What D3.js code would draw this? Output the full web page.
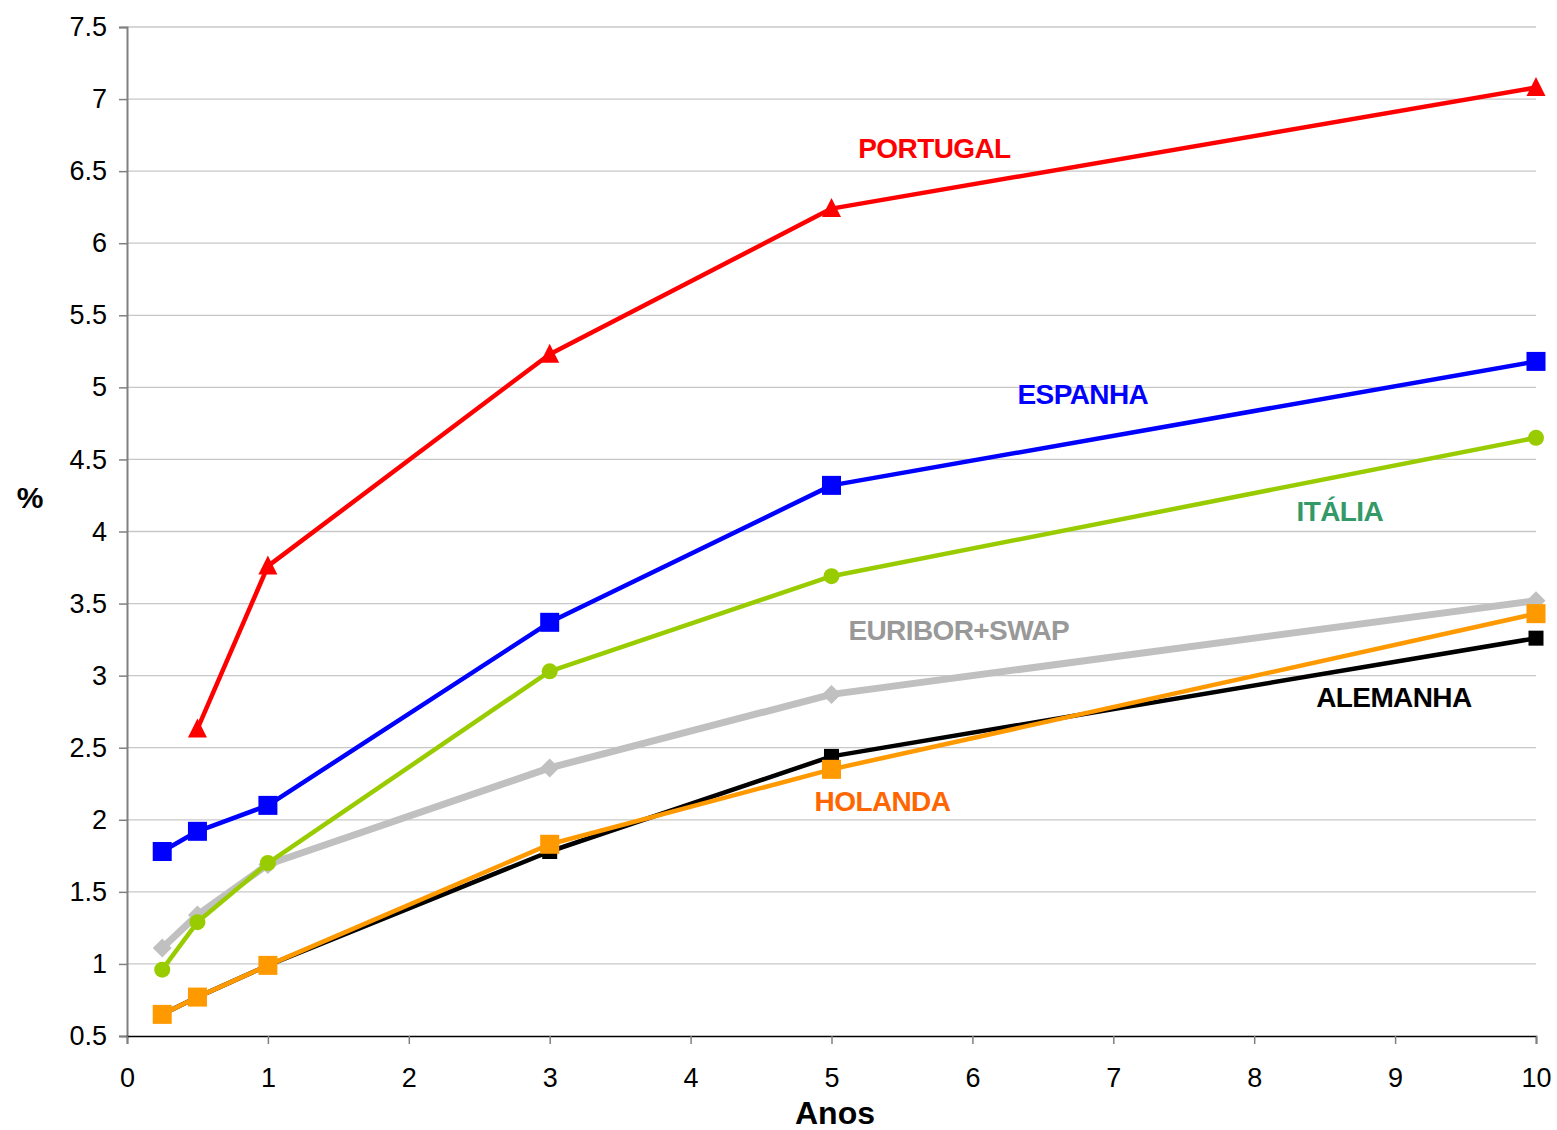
<!DOCTYPE html>
<html><head><meta charset="utf-8">
<script src="https://cdn.jsdelivr.net/npm/d3@7"></script>
<style>body{margin:0;background:#fff}svg{display:block;font-family:"Liberation Sans",Arial,sans-serif}</style>
</head><body>
<script>
const maturities = [0.25, 0.5, 1, 3, 5, 10];
const portugal = [null, 2.63, 3.76, 5.23, 6.24, 7.08];
const espanha = [1.78, 1.92, 2.10, 3.37, 4.32, 5.18];
const italia = [0.96, 1.29, 1.70, 3.03, 3.69, 4.65];
const euriborSwap = [1.11, 1.34, 1.69, 2.36, 2.87, 3.52];
const alemanha = [0.65, 0.77, 0.99, 1.78, 2.44, 3.26];
const holanda = [0.65, 0.77, 0.99, 1.83, 2.35, 3.43];
const xTicks = [0,1,2,3,4,5,6,7,8,9,10];
const yTicks = [0.5,1,1.5,2,2.5,3,3.5,4,4.5,5,5.5,6,6.5,7,7.5];

const series = [
  {name:"EURIBOR+SWAP", values:euriborSwap, color:"#c0c0c0", width:7, marker:"diamond", size:17, label:{x:5.12,y:3.31,color:"#999999"}},
  {name:"ALEMANHA", values:alemanha, color:"#000000", width:4.5, marker:"square", size:15, label:{x:8.44,y:2.85,color:"#000000"}},
  {name:"HOLANDA", values:holanda, color:"#ff9900", width:4.5, marker:"square", size:19, label:{x:4.88,y:2.13,color:"#ff6600"}},
  {name:"ITÁLIA", values:italia, color:"#99cc00", width:4.5, marker:"circle", size:8, label:{x:8.30,y:4.14,color:"#339966"}},
  {name:"ESPANHA", values:espanha, color:"#0000ff", width:4.5, marker:"square", size:19, label:{x:6.32,y:4.95,color:"#0000ff"}},
  {name:"PORTUGAL", values:portugal, color:"#ff0000", width:4.5, marker:"triangle", size:19, label:{x:5.19,y:6.66,color:"#ff0000"}}
];

const W=1557,H=1130;
const svg=d3.select("body").append("svg").attr("width",W).attr("height",H);
const x=d3.scaleLinear().domain([0,10]).range([127,1536]);
const y=d3.scaleLinear().domain([0.5,7.5]).range([1036,27]);

// gridlines
svg.append("g").selectAll("line").data(yTicks.slice(1)).join("line")
  .attr("x1",127).attr("x2",1536).attr("y1",d=>y(d)).attr("y2",d=>y(d))
  .attr("stroke","#c8c8c8").attr("stroke-width",1.3);

// y axis
const ya=svg.append("g").attr("transform","translate(127,0)")
  .call(d3.axisLeft(y).tickValues(yTicks).tickSize(8).tickPadding(12).tickFormat(d=>String(d)));
ya.select(".domain").attr("stroke","#808080").attr("stroke-width",2);
ya.selectAll(".tick line").attr("stroke","#808080").attr("stroke-width",1.5);
ya.selectAll("text").attr("font-size",27).attr("fill","#000").attr("font-family","Liberation Sans, Arial, sans-serif");

// x axis
const xa=svg.append("g").attr("transform","translate(0,1036)")
  .call(d3.axisBottom(x).tickValues(xTicks).tickSize(8).tickPadding(24).tickFormat(d=>String(d)));
xa.select(".domain").attr("stroke","#000").attr("stroke-width",1.5);
xa.selectAll(".tick line").attr("stroke","#808080").attr("stroke-width",1.5);
xa.selectAll("text").attr("font-size",27).attr("fill","#000").attr("font-family","Liberation Sans, Arial, sans-serif");

// axis titles
svg.append("text").attr("x",30).attr("y",508).attr("text-anchor","middle")
  .attr("font-size",30).attr("font-weight","bold").text("%");
svg.append("text").attr("x",835).attr("y",1124).attr("text-anchor","middle")
  .attr("font-size",32).attr("font-weight","bold").text("Anos");

const line=d3.line().defined(d=>d.v!=null).x(d=>x(d.m)).y(d=>y(d.v));

series.forEach(s=>{
  const pts=maturities.map((m,i)=>({m,v:s.values[i]}));
  const g=svg.append("g");
  g.append("path").datum(pts).attr("d",line).attr("fill","none")
    .attr("stroke",s.color).attr("stroke-width",s.width).attr("stroke-linejoin","round");
  const valid=pts.filter(d=>d.v!=null);
  const sz=s.size;
  if(s.marker==="square"){
    g.selectAll("rect").data(valid).join("rect")
      .attr("x",d=>x(d.m)-sz/2).attr("y",d=>y(d.v)-sz/2).attr("width",sz).attr("height",sz).attr("fill",s.color);
  } else if(s.marker==="circle"){
    g.selectAll("circle").data(valid).join("circle")
      .attr("cx",d=>x(d.m)).attr("cy",d=>y(d.v)).attr("r",sz).attr("fill",s.color);
  } else if(s.marker==="triangle"){
    g.selectAll("path.m").data(valid).join("path").attr("class","m")
      .attr("d",d=>{const cx=x(d.m),cy=y(d.v);return `M${cx},${cy-sz/2-1}L${cx+sz/2},${cy+sz/2-1}L${cx-sz/2},${cy+sz/2-1}Z`;})
      .attr("fill",s.color);
  } else if(s.marker==="diamond"){
    g.selectAll("path.m").data(valid).join("path").attr("class","m")
      .attr("d",d=>{const cx=x(d.m),cy=y(d.v),h=sz/2+1;return `M${cx},${cy-h}L${cx+h},${cy}L${cx},${cy+h}L${cx-h},${cy}Z`;})
      .attr("fill",s.color);
  }
});

// series labels
series.forEach(s=>{
  svg.append("text").attr("x",x(s.label.x)).attr("y",y(s.label.y)).attr("text-anchor","start")
    .attr("dominant-baseline","central")
    .attr("font-size",28).attr("font-weight","bold").attr("letter-spacing",-0.6)
    .attr("fill",s.label.color).text(s.name);
});
</script>
</body></html>
